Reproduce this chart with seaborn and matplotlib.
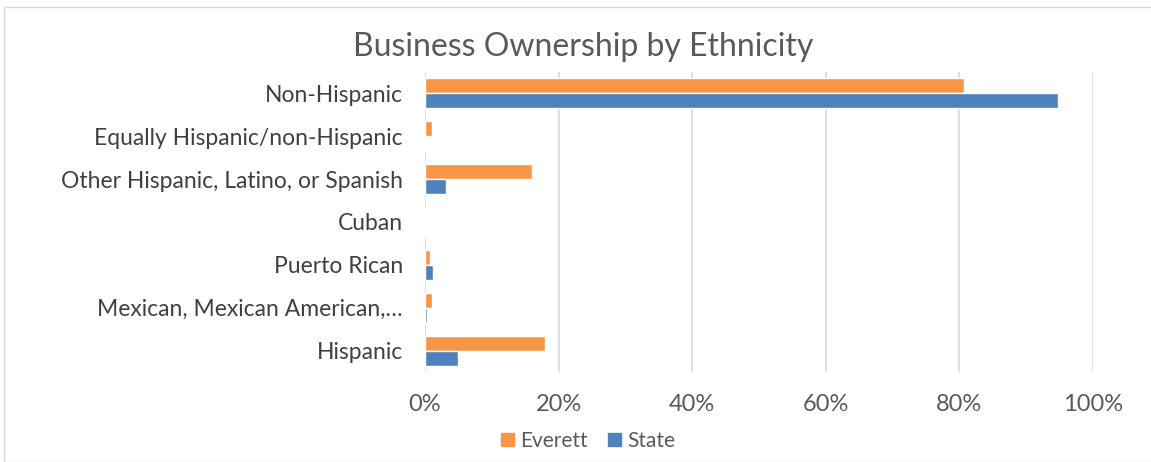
import matplotlib
matplotlib.use("Agg")
import matplotlib.pyplot as plt
import matplotlib.patches as mpatches
import pandas as pd
import seaborn as sns

categories = ["Non-Hispanic", "Equally Hispanic/non-Hispanic",
              "Other Hispanic, Latino, or Spanish", "Cuban", "Puerto Rican",
              "Mexican, Mexican American,\u2026", "Hispanic"]
everett = [80.7, 1.0, 16.0, 0.0, 0.7, 1.0, 18.0]
state = [94.7, 0.1, 3.2, 0.0, 1.2, 0.3, 5.0]
series = ["Everett", "State"]
colors = ["#F79646", "#4F81BD"]

df = pd.DataFrame({
    "category": categories * 2,
    "value": everett + state,
    "series": ["Everett"] * len(categories) + ["State"] * len(categories),
})

sns.set_style("white")
plt.rcParams["font.family"] = ["Lato", "DejaVu Sans"]

fig = plt.figure(figsize=(11.51, 4.62), dpi=100)
ax = fig.add_axes([425 / 1151, 1 - 372 / 462, (1093 - 425) / 1151, (372 - 72) / 462])

sns.barplot(data=df, x="value", y="category", hue="series", order=categories,
            hue_order=series, palette=colors, orient="h", width=0.7,
            saturation=1, ax=ax, legend=False)

ax.set_xlim(0, 100)
ax.set_xticks([0, 20, 40, 60, 80, 100])
ax.set_xticklabels([f"{t}%" for t in [0, 20, 40, 60, 80, 100]], fontsize=17, color="#595959")
ax.tick_params(axis="y", labelsize=16.5, labelcolor="#404040", length=0, pad=16)
ax.tick_params(axis="x", length=0, pad=16)
ax.xaxis.grid(True, color="#D9D9D9", linewidth=1.2)
ax.set_axisbelow(True)
for s in ax.spines.values():
    s.set_visible(False)
ax.set_xlabel("")
ax.set_ylabel("")

fig.text(583 / 1151, 1 - 47 / 462, "Business Ownership by Ethnicity",
         ha="center", va="center", fontsize=23, color="#595959")

handles = [mpatches.Patch(color=c, label=s) for c, s in zip(colors, series)]
fig.legend(handles=handles, loc="center", bbox_to_anchor=(588 / 1151, 1 - 441 / 462),
           ncol=2, frameon=False, fontsize=15, handlelength=0.6, handleheight=0.6,
           handletextpad=0.3, columnspacing=1.0, labelcolor="#595959")

# outer chart border
fig.patches.append(mpatches.Rectangle((4 / 1151, 0), 1.0, 1 - 7 / 462,
                                      transform=fig.transFigure, fill=False,
                                      edgecolor="#D9D9D9", linewidth=1))

plt.savefig("out.png", dpi=100)
